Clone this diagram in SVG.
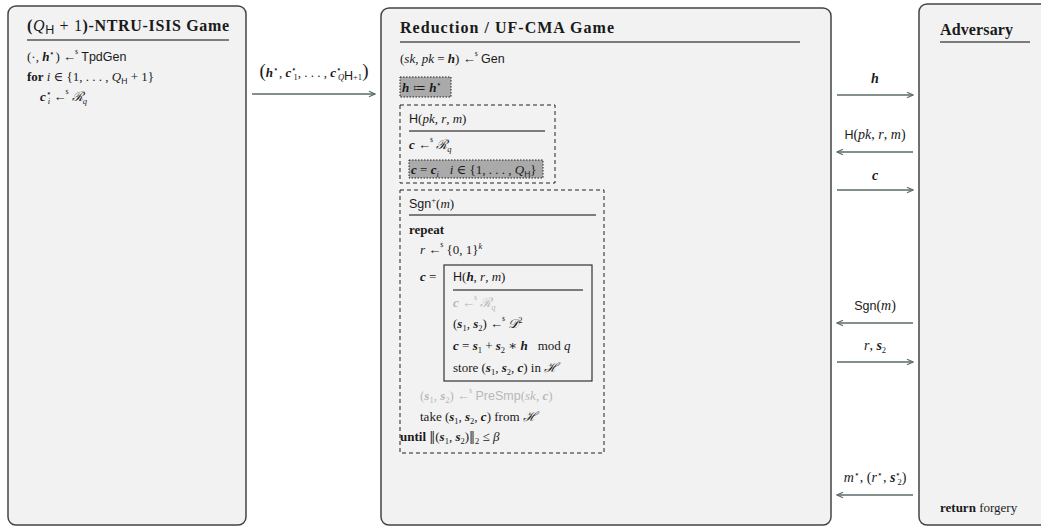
<svg xmlns="http://www.w3.org/2000/svg" width="1041" height="528" viewBox="0 0 1041 528">
<style>
.box{fill:#f2f2f2;stroke:#444;stroke-width:1.5}
.t{font-family:"Liberation Serif","DejaVu Serif",serif;font-size:13px;fill:#1a1a1a}
.la{font-size:14px}
.i{font-style:italic}
.bi{font-weight:bold;font-style:italic}
.b{font-weight:bold}
.sf{font-family:"Liberation Sans",sans-serif;font-size:12.5px}
.hd{font-family:"Liberation Serif",serif;font-size:16px;font-weight:bold;fill:#1a1a1a}
.ul{stroke:#555;stroke-width:1.6}
.g{fill:#b8b8b8}
.s{font-size:8.5px}
.dl{font-size:6px}
.dash{fill:none;stroke:#222;stroke-width:1;stroke-dasharray:4,3}
.dot{fill:#aaaaaa;stroke:#222;stroke-width:1;stroke-dasharray:1.5,1.5}
.arr{stroke:#5b6b6b;stroke-width:1.3;fill:none}
</style>
<defs>
<marker id="ah" viewBox="0 0 8 8" refX="7" refY="4" markerWidth="8" markerHeight="8" markerUnits="userSpaceOnUse" orient="auto">
<path d="M1,1.2 L7,4 L1,6.8" fill="none" stroke="#5b6b6b" stroke-width="1.1"/>
</marker>
</defs>
<rect width="1041" height="528" fill="#ffffff"/>

<g id="ntru-game">
<rect class="box" x="8" y="6" width="238" height="519" rx="8"/>
<text class="hd" x="27" y="31" textLength="202" lengthAdjust="spacing">(<tspan class="i" font-weight="normal">Q</tspan><tspan class="sf" font-weight="normal" font-size="10" dy="3">H</tspan><tspan dy="-3" font-weight="normal"> + 1</tspan>)-NTRU-ISIS Game</text>
<line class="ul" x1="27" y1="40" x2="229" y2="40"/>
<text class="t" x="27" y="61">(·, <tspan class="bi">h</tspan><tspan class="s" dy="-5">⋆</tspan><tspan dy="5">) ←</tspan><tspan class="dl" dx="-1" dy="-7">$</tspan><tspan dy="7" class="sf"> TpdGen</tspan></text>
<text class="t" x="27" y="81"><tspan class="b">for</tspan> <tspan class="i">i</tspan> ∈ {1, . . . , <tspan class="i">Q</tspan><tspan class="sf s" dy="3">H</tspan><tspan dy="-3"> + 1}</tspan></text>
<text class="t" x="40" y="101"><tspan class="bi">c</tspan><tspan class="s" dy="-5">⋆</tspan><tspan class="s i" dx="-4" dy="8">i</tspan><tspan dy="-3"> ←</tspan><tspan class="dl" dx="-1" dy="-7">$</tspan><tspan dy="7" class="i"> ℛ</tspan><tspan class="s i" dy="3">q</tspan></text>
</g>

<g id="reduction">
<rect class="box" x="381" y="8" width="450" height="517" rx="8"/>
<text class="hd" x="400" y="33" textLength="214" lengthAdjust="spacing">Reduction / UF-CMA Game</text>
<line class="ul" x1="400" y1="42" x2="800" y2="42"/>
<text class="t" x="400" y="63">(<tspan class="i">sk</tspan>, <tspan class="i">pk</tspan> = <tspan class="bi">h</tspan>) ←<tspan class="dl" dx="-1" dy="-7">$</tspan><tspan dy="7" class="sf"> Gen</tspan></text>
<rect class="dot" x="400" y="77" width="51" height="20"/>
<text class="t" x="402" y="91.5"><tspan class="bi">h</tspan> ≔ <tspan class="bi">h</tspan><tspan class="s" dy="-5">⋆</tspan></text>

<rect class="dash" x="400" y="105" width="155" height="78"/>
<text class="t" x="409" y="123"><tspan class="sf">H</tspan>(<tspan class="i">pk</tspan>, <tspan class="i">r</tspan>, <tspan class="i">m</tspan>)</text>
<line class="ul" x1="409" y1="131" x2="545" y2="131"/>
<text class="t" x="409" y="149"><tspan class="bi">c</tspan> ←<tspan class="dl" dx="-1" dy="-7">$</tspan><tspan dy="7" class="i"> ℛ</tspan><tspan class="s i" dy="3">q</tspan></text>
<rect class="dot" x="409" y="160" width="134" height="18"/>
<text class="t" x="411" y="173.5"><tspan class="bi">c</tspan> = <tspan class="bi">c</tspan><tspan class="s i" dy="3">i</tspan><tspan dy="-3" dx="11" class="i">i</tspan> ∈ {1, . . . , <tspan class="i">Q</tspan><tspan class="sf s" dy="3">H</tspan><tspan dy="-3">}</tspan></text>

<rect class="dash" x="400" y="190" width="204" height="263"/>
<text class="t" x="409" y="208"><tspan class="sf">Sgn</tspan><tspan class="s" dy="-5">+</tspan><tspan dy="5">(</tspan><tspan class="i">m</tspan>)</text>
<line class="ul" x1="409" y1="215" x2="596" y2="215"/>
<text class="t b" x="409" y="234">repeat</text>
<text class="t" x="420" y="254"><tspan class="i">r</tspan> ←<tspan class="dl" dx="-1" dy="-7">$</tspan><tspan dy="7"> {0, 1}</tspan><tspan class="s i" dy="-5">k</tspan></text>
<text class="t" x="420" y="281"><tspan class="bi">c</tspan> =</text>
<rect x="444" y="265" width="148" height="116" fill="none" stroke="#333" stroke-width="1.2"/>
<text class="t" x="453" y="281"><tspan class="sf">H</tspan>(<tspan class="bi">h</tspan>, <tspan class="i">r</tspan>, <tspan class="i">m</tspan>)</text>
<line class="ul" x1="453" y1="290" x2="583" y2="290"/>
<text class="t g" x="453" y="307"><tspan class="bi">c</tspan> ←<tspan class="dl" dx="-1" dy="-7">$</tspan><tspan dy="7" class="i"> ℛ</tspan><tspan class="s i" dy="3">q</tspan></text>
<text class="t" x="453" y="328">(<tspan class="bi">s</tspan><tspan class="s" dy="3">1</tspan><tspan dy="-3">, </tspan><tspan class="bi">s</tspan><tspan class="s" dy="3">2</tspan><tspan dy="-3">) ←</tspan><tspan class="dl" dx="-1" dy="-7">$</tspan><tspan dy="7" class="i"> 𝒟</tspan><tspan class="s" dy="-5">2</tspan></text>
<text class="t" x="453" y="350"><tspan class="bi">c</tspan> = <tspan class="bi">s</tspan><tspan class="s" dy="3">1</tspan><tspan dy="-3"> + </tspan><tspan class="bi">s</tspan><tspan class="s" dy="3">2</tspan><tspan dy="-3"> ∗ </tspan><tspan class="bi">h</tspan><tspan dx="10">mod </tspan><tspan class="i">q</tspan></text>
<text class="t" x="453" y="372">store (<tspan class="bi">s</tspan><tspan class="s" dy="3">1</tspan><tspan dy="-3">, </tspan><tspan class="bi">s</tspan><tspan class="s" dy="3">2</tspan><tspan dy="-3">, </tspan><tspan class="bi">c</tspan>) in <tspan class="i">ℋ</tspan></text>
<text class="t g" x="420" y="400">(<tspan class="bi">s</tspan><tspan class="s" dy="3">1</tspan><tspan dy="-3">, </tspan><tspan class="bi">s</tspan><tspan class="s" dy="3">2</tspan><tspan dy="-3">) ←</tspan><tspan class="dl" dx="-1" dy="-7">$</tspan><tspan dy="7" class="sf"> PreSmp</tspan>(<tspan class="i">sk</tspan>, <tspan class="bi">c</tspan>)</text>
<text class="t" x="420" y="421">take (<tspan class="bi">s</tspan><tspan class="s" dy="3">1</tspan><tspan dy="-3">, </tspan><tspan class="bi">s</tspan><tspan class="s" dy="3">2</tspan><tspan dy="-3">, </tspan><tspan class="bi">c</tspan>) from <tspan class="i">ℋ</tspan></text>
<text class="t" x="400" y="441"><tspan class="b">until</tspan> <tspan font-family="DejaVu Serif" font-size="12">‖</tspan>(<tspan class="bi">s</tspan><tspan class="s" dy="3">1</tspan><tspan dy="-3">, </tspan><tspan class="bi">s</tspan><tspan class="s" dy="3">2</tspan><tspan dy="-3">)</tspan><tspan font-family="DejaVu Serif" font-size="12">‖</tspan><tspan class="s" dy="3">2</tspan><tspan dy="-3"> ≤ </tspan><tspan class="i">β</tspan></text>
</g>

<g id="adversary">
<rect class="box" x="919" y="4" width="140" height="521" rx="8"/>
<text class="hd" x="940" y="35" textLength="73" lengthAdjust="spacing">Adversary</text>
<line class="ul" x1="940" y1="42" x2="1030" y2="42"/>
<text class="t" x="940" y="512"><tspan class="b">return</tspan> forgery</text>
</g>

<g id="connectors">
<line class="arr" x1="252" y1="94" x2="375" y2="94" marker-end="url(#ah)"/>
<text class="t" x="314" y="77" text-anchor="middle" font-size="14"><tspan font-size="19">(</tspan><tspan class="bi">h</tspan><tspan class="s" dy="-5">⋆</tspan><tspan dy="5">, </tspan><tspan class="bi">c</tspan><tspan class="s" dy="-5">⋆</tspan><tspan class="s" dx="-4" dy="8">1</tspan><tspan dy="-3">, . . . , </tspan><tspan class="bi">c</tspan><tspan class="s" dy="-5">⋆</tspan><tspan class="s" dx="-4" dy="8"><tspan class="i">Q</tspan><tspan class="sf" font-size="6">H</tspan>+1</tspan><tspan dy="-3" font-size="19">)</tspan></text>

<line class="arr" x1="837" y1="95" x2="913" y2="95" marker-end="url(#ah)"/>
<text class="t la bi" x="875" y="83" text-anchor="middle">h</text>

<line class="arr" x1="913" y1="152" x2="837" y2="152" marker-end="url(#ah)"/>
<text class="t la" x="875" y="139" text-anchor="middle"><tspan class="sf" font-size="14">H</tspan>(<tspan class="i">pk</tspan>, <tspan class="i">r</tspan>, <tspan class="i">m</tspan>)</text>

<line class="arr" x1="837" y1="190" x2="913" y2="190" marker-end="url(#ah)"/>
<text class="t la bi" x="875" y="180" text-anchor="middle">c</text>

<line class="arr" x1="913" y1="323" x2="837" y2="323" marker-end="url(#ah)"/>
<text class="t la" x="875" y="310" text-anchor="middle"><tspan class="sf" font-size="14">Sgn</tspan>(<tspan class="i">m</tspan>)</text>

<line class="arr" x1="837" y1="362" x2="913" y2="362" marker-end="url(#ah)"/>
<text class="t la" x="875" y="350" text-anchor="middle"><tspan class="i">r</tspan>, <tspan class="bi">s</tspan><tspan class="s" dy="3">2</tspan></text>

<line class="arr" x1="913" y1="495" x2="837" y2="495" marker-end="url(#ah)"/>
<text class="t la" x="875" y="482" text-anchor="middle"><tspan class="i">m</tspan><tspan class="s" dy="-5">⋆</tspan><tspan dy="5">, (</tspan><tspan class="i">r</tspan><tspan class="s" dy="-5">⋆</tspan><tspan dy="5">, </tspan><tspan class="bi">s</tspan><tspan class="s" dy="-5">⋆</tspan><tspan class="s" dx="-4" dy="8">2</tspan><tspan dy="-3">)</tspan></text>
</g>
</svg>
